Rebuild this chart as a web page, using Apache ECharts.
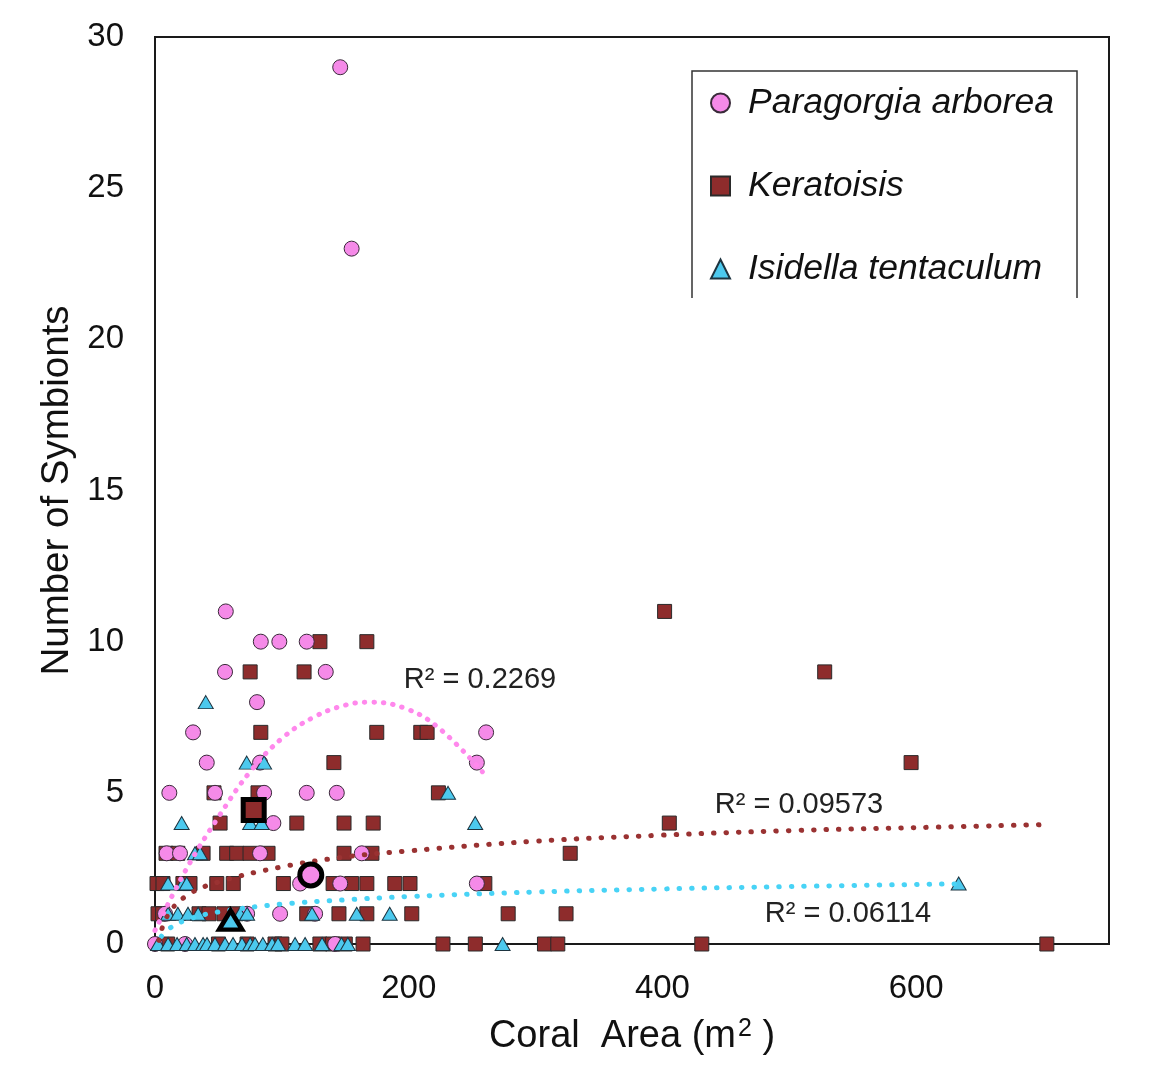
<!DOCTYPE html>
<html><head><meta charset="utf-8">
<script src="https://cdn.jsdelivr.net/npm/echarts@6/dist/echarts.min.js"></script>
<style>html,body{margin:0;padding:0;background:#fff}#c{width:1156px;height:1083px}</style>
</head><body><div id="c"></div>
<script>
// ---- data ----
const seriesNames = ['Paragorgia arborea', 'Keratoisis', 'Isidella tentaculum'];

const paragorgia = [
  [0,0],[146,29],[155,23],[55.8,11],[83.4,10],[98,10],[119.6,10],[55.2,9],[134.6,9],[80.4,8],
  [30,7],[261,7],[40.8,6],[82.8,6],[253.7,6],[11.3,5],[47.3,5],[86,5],[119.6,5],[143.3,5],
  [93.3,4],[9.2,3],[19.7,3],[82.8,3],[163,3],[114.4,2],[146,2],[253.7,2],
  [7.9,1],[72.6,1],[98.6,1],[126.2,1],[142,0],[23.7,0]
];
const keratoisis = [
  [401.7,11],[130,10],[167,10],[75,9],[117.5,9],[527.9,9],
  [83.4,7],[174.8,7],[209.5,7],[214.5,7],[141,6],[596,6],
  [46.5,5],[81.2,5],[223.4,5],[51.3,4],[111.8,4],[149,4],[172,4],[405.4,4],
  [8.7,3],[18,3],[37.9,3],[56.5,3],[64.4,3],[74.9,3],[89.1,3],[149,3],[171,3],[327.3,3],
  [1.6,2],[6.3,2],[22,2],[27.6,2],[48.7,2],[61.7,2],[101.2,2],[140.4,2],[155,2],[167,2],[189,2],[201,2],[260,2],
  [2.4,1],[6,1],[34.7,1],[42.6,1],[54.4,1],[63.9,1],[119.6,1],[145,1],[167,1],[202.4,1],[278.4,1],[324,1],
  [10,0],[50,0],[72.6,0],[94.6,0],[100,0],[130,0],[140,0],[150,0],[164,0],[227,0],[252.5,0],[307,0],[317.5,0],[431,0],[703,0]
];
const isidella = [
  [40,8],[72.3,6],[86,6],[231,5],[21,4],[75,4],[84,4],[252.4,4],[31.5,3],[35.5,3],
  [10.3,2],[22,2],[25,2],[633.5,2],
  [10.3,1],[18,1],[26,1],[34,1],[67,1],[72.6,1],[123.8,1],[159,1],[185,1],
  [2.4,0],[10.3,0],[17.4,0],[25,0],[31.5,0],[37.9,0],[41,0],[47.3,0],[55.2,0],[61.5,0],[68.6,0],
  [75,0],[78.9,0],[85,0],[92.3,0],[97,0],[110.4,0],[118.3,0],[131.7,0],[147,0],[152,0],[274,0]
];
const meanParagorgia = [[122.8, 2.28]];
const meanKeratoisis = [[77.8, 4.43]];
const meanIsidella = [[59.6, 0.79]];

// trend curves, points
const trendParagorgia = [[0,0.45],[25,2.5],[50,4.2],[75,5.7],[100,6.8],[125,7.5],[150,7.9],[170,8.0],[200,7.75],[225,7.1],[258,5.7]];
const trendKeratoisis = [[3,0.12],[10,0.95],[25,1.6],[50,2.05],[100,2.55],[150,2.88],[200,3.08],[300,3.4],[400,3.6],[500,3.75],[600,3.85],[702,3.95]];
const trendIsidella = [[5,0.25],[10,0.48],[25,0.8],[50,1.06],[100,1.32],[150,1.46],[200,1.57],[300,1.72],[400,1.82],[500,1.9],[633,1.99]];

const r2Labels = ['R² = 0.2269', 'R² = 0.09573', 'R² = 0.06114'];
const xAxisTitle = 'Coral  Area (m{sup|2} )';
const yAxisTitle = 'Number of Symbionts';
const xMax = 752, xStep = 200, yMax = 30, yStep = 5;

// ---- chart ----
const FONT = "'Liberation Sans', Arial, sans-serif";
const colP = '#F58AE8', colK = '#8E2C2C', colI = '#4CC9EE';
const chart = echarts.init(document.getElementById('c'), null, {renderer: 'canvas'});

const dotted = (color, gap) => ({color, width: 5, type: [0.5, gap], cap: 'round'});
const r2Style = {fontSize: 29, fill: '#222', fontFamily: FONT, align: 'center', verticalAlign: 'middle'};

chart.setOption({
  animation: false,
  backgroundColor: '#fff',
  grid: {left: 155, right: 47, top: 37, bottom: 139, show: true, borderColor: '#1a1a1a', borderWidth: 2},
  xAxis: {
    type: 'value', min: 0, max: xMax, interval: xStep,
    axisLine: {show: false}, axisTick: {show: false}, splitLine: {show: false},
    axisLabel: {fontSize: 33, color: '#111', fontFamily: FONT, margin: 28, showMaxLabel: false},
    name: xAxisTitle, nameLocation: 'middle', nameGap: 73,
    nameTextStyle: {fontSize: 38, color: '#111', fontFamily: FONT,
      rich: {sup: {fontSize: 25, color: '#111', fontFamily: FONT, verticalAlign: 'top', padding: [0, 0, 14, 2]}}}
  },
  yAxis: {
    type: 'value', min: 0, max: yMax, interval: yStep,
    axisLine: {show: false}, axisTick: {show: false}, splitLine: {show: false},
    axisLabel: {fontSize: 33, color: '#111', fontFamily: FONT, margin: 31},
    name: yAxisTitle, nameLocation: 'middle', nameGap: 76,
    nameTextStyle: {fontSize: 38.5, color: '#111', fontFamily: FONT}
  },
  legend: {
    orient: 'vertical', left: 705, top: 80, itemGap: 47, itemWidth: 19, itemHeight: 19,
    data: seriesNames,
    textStyle: {fontSize: 35.5, fontStyle: 'italic', color: '#111', fontFamily: FONT, padding: [0, 0, 0, 13], lineHeight: 36}
  },
  graphic: [
    {type: 'polyline', shape: {points: [[692, 298], [692, 71], [1077, 71], [1077, 298]]}, style: {stroke: '#333', lineWidth: 1.5, fill: null}, z: 10},
    {type: 'text', x: 480, y: 680, style: Object.assign({text: r2Labels[0]}, r2Style), z: 10},
    {type: 'text', x: 799, y: 805, style: Object.assign({text: r2Labels[1]}, r2Style), z: 10},
    {type: 'text', x: 848, y: 914, style: Object.assign({text: r2Labels[2]}, r2Style), z: 10}
  ],
  series: [
    {name: seriesNames[1], type: 'scatter', data: keratoisis, symbol: 'rect', symbolSize: 14,
      itemStyle: {color: colK, borderColor: '#2a2a2a', borderWidth: 1, opacity: 1}, z: 2},
    {name: seriesNames[0], type: 'scatter', data: paragorgia, symbol: 'circle', symbolSize: 15,
      itemStyle: {color: colP, borderColor: '#3a2a3a', borderWidth: 1, opacity: 1}, z: 3},
    {name: seriesNames[2], type: 'scatter', data: isidella, symbol: 'triangle', symbolSize: [15, 13],
      itemStyle: {color: colI, borderColor: '#1d3440', borderWidth: 1, opacity: 1}, z: 4},
    {name: 'trendI', type: 'line', data: trendIsidella, smooth: 0.4, symbol: 'none', lineStyle: dotted('#48D3F6', 12), z: 5, silent: true},
    {name: 'trendK', type: 'line', data: trendKeratoisis, smooth: 0.4, symbol: 'none', lineStyle: dotted('#9A3232', 12), z: 5, silent: true},
    {name: 'trendP', type: 'line', data: trendParagorgia, smooth: 0.4, symbol: 'none', lineStyle: dotted('#FF88EC', 9), z: 5, silent: true},
    {name: 'meanK', type: 'scatter', data: meanKeratoisis, symbol: 'rect', symbolSize: 21,
      itemStyle: {color: colK, borderColor: '#000', borderWidth: 5, opacity: 1}, z: 6},
    {name: 'meanP', type: 'scatter', data: meanParagorgia, symbol: 'circle', symbolSize: 22,
      itemStyle: {color: colP, borderColor: '#000', borderWidth: 5, opacity: 1}, z: 6},
    {name: 'meanI', type: 'scatter', data: meanIsidella, symbol: 'triangle', symbolSize: [23, 19],
      itemStyle: {color: colI, borderColor: '#000', borderWidth: 4.5, opacity: 1}, z: 6}
  ]
});
</script>
</body></html>
